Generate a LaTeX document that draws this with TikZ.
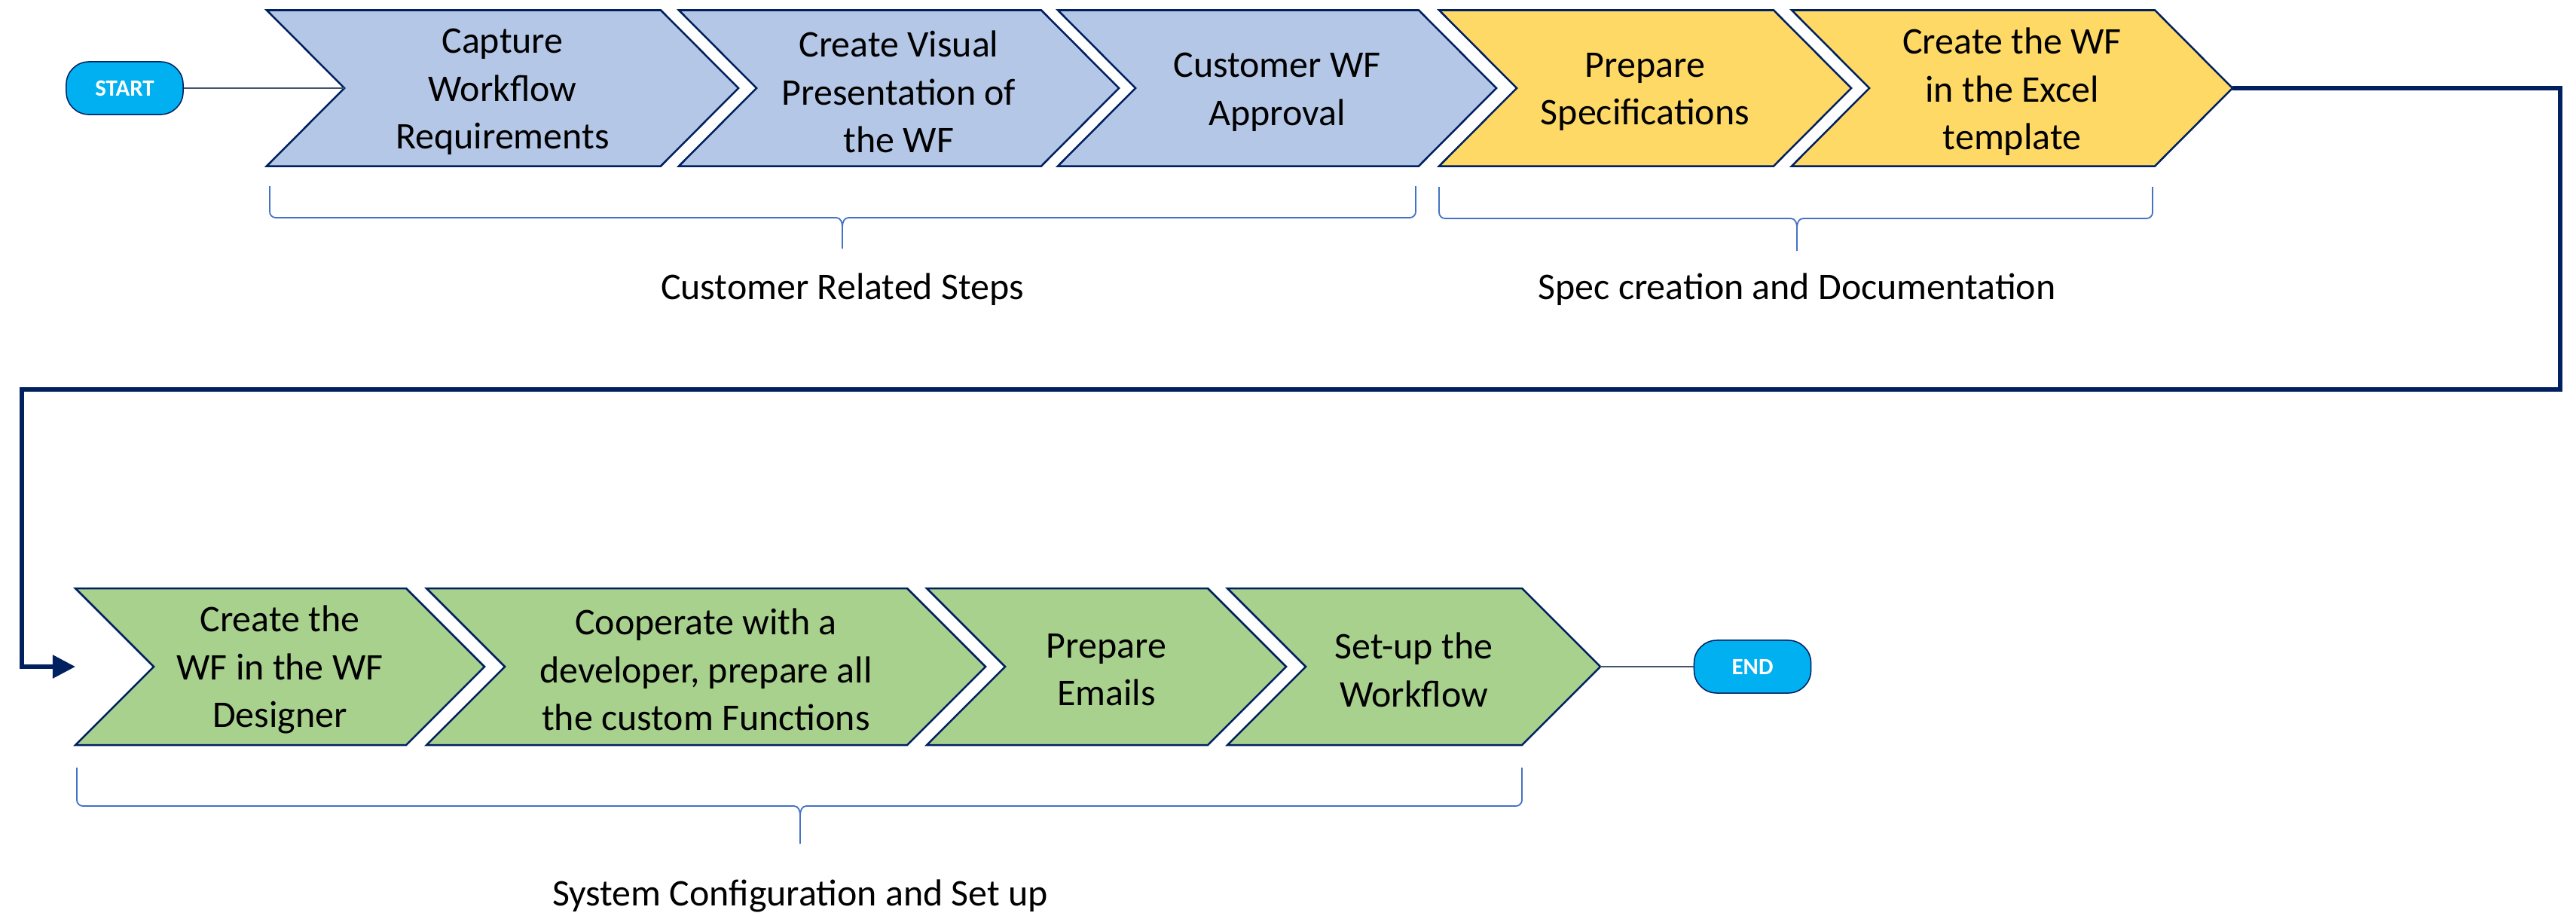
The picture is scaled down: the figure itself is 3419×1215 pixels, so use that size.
\documentclass[tikz,border=0pt]{standalone}
\usepackage{fontspec}
\setmainfont{Carlito}
\usetikzlibrary{arrows.meta}

\definecolor{navy}{HTML}{002060}
\definecolor{custblue}{HTML}{B4C7E7}
\definecolor{specyellow}{HTML}{FFD966}
\definecolor{confgreen}{HTML}{A9D18E}
\definecolor{termblue}{HTML}{00B0F0}
\definecolor{linkgrey}{HTML}{44546A}
\definecolor{bracecol}{HTML}{4472C4}

\tikzset{
	stage/.style={draw=navy, line width=0.025cm},
	stagetext/.style={align=center, inner sep=0pt, font=\fontsize{14.2}{18.1}\selectfont},
	terminal/.style={draw=navy, line width=0.015cm, fill=termblue, rounded corners=0.3cm,
		minimum width=1.55cm, minimum height=0.7cm, inner sep=0pt,
		text=white, font=\fontsize{8.8}{10}\selectfont\bfseries},
	thinlink/.style={draw=linkgrey, line width=0.025cm},
	returnlink/.style={draw=navy, line width=0.055cm, -{Triangle[length=0.3cm, width=0.3cm]}},
	bracket/.style={draw=bracecol, line width=0.018cm},
	bracelabel/.style={anchor=base, inner sep=0pt, font=\fontsize{14.2}{17.8}\selectfont}
}

\begin{document}
\begin{tikzpicture}[x=0.01cm, y=-0.01cm]
	\useasboundingbox (0,0) rectangle (3419,1215);
	
	% top row: customer steps and spec creation
	\foreach \nm/\l/\r/\col/\txt in {
		c1/354/877/custblue/{Capture\\Workflow\\Requirements},
		c2/901/1382/custblue/{Create Visual\\Presentation of\\the WF},
		c3/1404/1883/custblue/{Customer WF\\Approval},
		c4/1910/2354/specyellow/{Prepare\\Specifications},
		c5/2378/2860/specyellow/{Create the WF\\in the Excel\\template}}
	{
		\draw[stage, fill=\col] (\l,13.5) -- (\r,13.5) -- (\r+103,117) -- (\r,220.5) -- (\l,220.5) -- (\l+103,117) -- cycle;
		\coordinate (\nm-in) at (\l+103,117);
		\coordinate (\nm-out) at (\r+103,117);
		\node[stagetext] (\nm) at ({(\l+103+\r)/2},122) {\txt};
	}
	
	% bottom row: system configuration
	\foreach \nm/\l/\r/\txt in {
		g1/100/539/{Create the\\WF in the WF\\Designer},
		g2/566/1204/{Cooperate with a\\developer, prepare all\\the custom Functions},
		g3/1230/1603/{Prepare\\Emails},
		g4/1629/2020/{Set-up the\\Workflow}}
	{
		\draw[stage, fill=confgreen] (\l,781) -- (\r,781) -- (\r+104,885) -- (\r,989) -- (\l,989) -- (\l+104,885) -- cycle;
		\coordinate (\nm-in) at (\l+104,885);
		\coordinate (\nm-out) at (\r+104,885);
		\node[stagetext] (\nm) at ({(\l+104+\r)/2},889) {\txt};
	}
	
	% start and end
	\node[terminal] (start) at (165.5,117) {START};
	\node[terminal] (finish) at (2326,885) {END};
	\draw[thinlink] (start) -- (c1-in);
	\draw[thinlink] (g4-out) -- (finish);
	
	% wrap-around to the second row
	\coordinate (g1-edge) at (100,885);
	\draw[returnlink] (c5-out) -| (3398,517) -| (29,885) -- (g1-edge);
	
	% braces with group names
	\foreach \xa/\xb/\xm/\yt/\yl/\yc/\yb/\nm/\txt in {
		358/1879/1118/247/289/330/397/custgroup/Customer Related Steps,
		1910/2857/2385/248/290/333/397/specgroup/Spec creation and Documentation,
		102/2020/1062/1019/1070/1120/1202/confgroup/System Configuration and Set up}
	{
		\draw[bracket] (\xa,\yt) -- (\xa,\yl-8) to[out=-90, in=180] (\xa+8,\yl) -- (\xm-8,\yl)
			to[out=0, in=90] (\xm,\yl+12) -- (\xm,\yc) -- (\xm,\yl+12) to[out=90, in=180] (\xm+8,\yl) -- (\xb-8,\yl)
			to[out=0, in=-90] (\xb,\yl-8) -- (\xb,\yt);
		\node[bracelabel] (\nm) at (\xm,\yb) {\txt};
	}
\end{tikzpicture}
\end{document}
